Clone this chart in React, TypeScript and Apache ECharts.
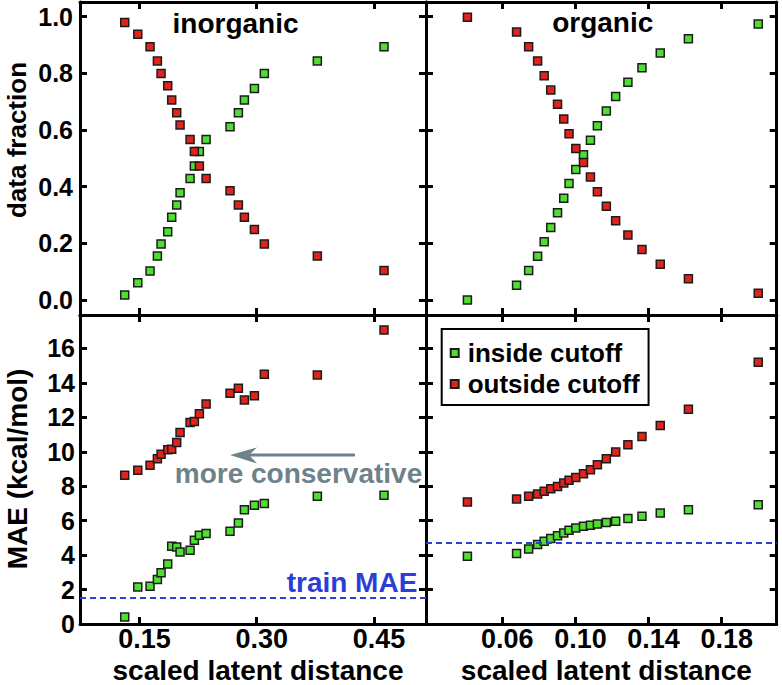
import React, { useEffect, useRef } from 'react';
import * as echarts from 'echarts';

// ---------- data ----------
const inorgX = [0.1312, 0.1479, 0.1636, 0.173, 0.1777, 0.1862, 0.1913, 0.1977, 0.202, 0.2148, 0.2203, 0.2267, 0.2353, 0.2659, 0.2766, 0.2843, 0.2971, 0.3098, 0.3776, 0.4629];
const inorgFracInside = [0.018, 0.061, 0.102, 0.155, 0.198, 0.241, 0.292, 0.335, 0.379, 0.429, 0.473, 0.524, 0.567, 0.612, 0.661, 0.706, 0.747, 0.8, 0.844, 0.894];
const inorgFracOutside = [0.98, 0.938, 0.894, 0.844, 0.8, 0.756, 0.706, 0.661, 0.618, 0.567, 0.524, 0.473, 0.429, 0.386, 0.335, 0.292, 0.249, 0.198, 0.155, 0.104];
const inorgMaeInside = [0.4, 2.15, 2.19, 2.58, 2.97, 3.49, 4.51, 4.47, 4.18, 4.28, 4.86, 5.15, 5.25, 5.38, 5.86, 6.64, 6.89, 6.99, 7.41, 7.47];
const inorgMaeOutside = [8.63, 8.92, 9.21, 9.59, 9.86, 10.12, 10.15, 10.54, 11.12, 11.7, 11.76, 12.2, 12.78, 13.4, 13.69, 13.01, 13.25, 14.5, 14.46, 17.07];

const orgX = [0.0409, 0.0678, 0.0744, 0.0793, 0.0829, 0.0865, 0.0902, 0.0936, 0.0965, 0.1002, 0.1044, 0.1082, 0.112, 0.1169, 0.122, 0.1287, 0.1364, 0.1464, 0.1618, 0.2];
const orgFracInside = [0.0, 0.052, 0.104, 0.154, 0.206, 0.256, 0.308, 0.359, 0.411, 0.461, 0.513, 0.564, 0.615, 0.667, 0.718, 0.769, 0.82, 0.872, 0.922, 0.974];
const orgFracOutside = [0.998, 0.946, 0.894, 0.844, 0.792, 0.741, 0.691, 0.639, 0.587, 0.535, 0.485, 0.434, 0.382, 0.331, 0.28, 0.229, 0.178, 0.126, 0.075, 0.024];
const orgMaeInside = [3.93, 4.09, 4.36, 4.61, 4.8, 4.96, 5.13, 5.29, 5.44, 5.57, 5.67, 5.73, 5.81, 5.9, 5.96, 6.12, 6.25, 6.44, 6.64, 6.93];
const orgMaeOutside = [7.08, 7.26, 7.41, 7.55, 7.7, 7.85, 7.99, 8.18, 8.34, 8.51, 8.72, 8.96, 9.25, 9.59, 9.98, 10.41, 10.89, 11.53, 12.47, 15.19];

const trainMaeInorg = 1.52;
const trainMaeOrg = 4.71;

const inorgTicks = [0.15, 0.3, 0.45];
const orgTicks = [0.06, 0.1, 0.14, 0.18];
const fracTicks = [0, 0.2, 0.4, 0.6, 0.8, 1.0];
const maeTicks = [0, 2, 4, 6, 8, 10, 12, 14, 16];

const seriesNames = ['inside cutoff', 'outside cutoff'];
const panelTitles = ['inorganic', 'organic'];

// ---------- styling ----------
const FONT = '"Liberation Sans", Arial, Helvetica, sans-serif';
const GREEN = '#4ee030';
const RED = '#e3231b';
const EDGE = '#1c1c1c';
const GRAY = '#6f8189';
const BLUE = '#2c3dd8';

const grids = [
  { left: 80, top: 2, width: 346, height: 313 },
  { left: 426, top: 2, width: 350.7, height: 313 },
  { left: 80, top: 315, width: 346, height: 309.5 },
  { left: 426, top: 315, width: 350.7, height: 309.5 },
];

const xRanges = [
  [0.074, 0.5166],
  [0.01825, 0.2101],
];
const fracRange = [-0.053, 1.052];
const maeRange = [0, 17.94];

const zip = (xs: number[], ys: number[]) => xs.map((x, i) => [x, ys[i]]);

export default function App() {
  const ref = useRef<HTMLDivElement>(null);

  useEffect(() => {
    if (!ref.current) return;
    const chart = echarts.init(ref.current, undefined, { renderer: 'svg' });

    const line = { onZero: false, lineStyle: { color: '#000', width: 3 } };
    const tickBase = { inside: true, length: 7, lineStyle: { color: '#000', width: 3 } };

    const xAxis: any[] = [];
    const yAxis: any[] = [];
    for (let g = 0; g < 4; g++) {
      const isLeft = g % 2 === 0;
      const isBottom = g >= 2;
      const [xmin, xmax] = isLeft ? xRanges[0] : xRanges[1];
      const xt = isLeft ? inorgTicks : orgTicks;
      const [ymin, ymax] = isBottom ? maeRange : fracRange;
      const yt = isBottom ? maeTicks : fracTicks;
      // bottom x axis
      xAxis.push({
        type: 'value', gridIndex: g, position: 'bottom', min: xmin, max: xmax,
        axisLine: line, splitLine: { show: false },
        axisTick: { ...tickBase, customValues: xt },
        axisLabel: {
          show: isBottom, customValues: xt, margin: 1,
          formatter: (v: number) => v.toFixed(2),
          fontSize: 27, fontWeight: 'bold', color: '#000', fontFamily: FONT,
          padding: [0, 0, 0, 10],
        },
        name: isBottom ? 'scaled latent distance' : '',
        nameLocation: 'middle', nameGap: 32,
        nameTextStyle: { fontSize: 28, fontWeight: 'bold', color: '#000', fontFamily: FONT, padding: [0, 0, 0, 10] },
      });
      // top x axis (ticks only)
      xAxis.push({
        type: 'value', gridIndex: g, position: 'top', min: xmin, max: xmax,
        axisLine: line, splitLine: { show: false },
        axisTick: { ...tickBase, customValues: xt },
        axisLabel: { show: false },
      });
      // left y axis
      yAxis.push({
        type: 'value', gridIndex: g, position: 'left', min: ymin, max: ymax,
        axisLine: line, splitLine: { show: false },
        axisTick: { ...tickBase, customValues: yt },
        axisLabel: {
          show: isLeft, customValues: yt, margin: isBottom ? 5 : 7,
          formatter: (v: number) => (isBottom ? String(Math.round(v)) : v.toFixed(1)),
          fontSize: 25, fontWeight: 'bold', color: '#000', fontFamily: FONT,
        },
      });
      // right y axis (ticks only)
      yAxis.push({
        type: 'value', gridIndex: g, position: 'right', min: ymin, max: ymax,
        axisLine: line, splitLine: { show: false },
        axisTick: { ...tickBase, customValues: yt },
        axisLabel: { show: false },
      });
    }

    const panelData = [
      [inorgX, inorgFracInside, inorgFracOutside, null],
      [orgX, orgFracInside, orgFracOutside, null],
      [inorgX, inorgMaeInside, inorgMaeOutside, trainMaeInorg],
      [orgX, orgMaeInside, orgMaeOutside, trainMaeOrg],
    ] as const;

    const series: any[] = [];
    panelData.forEach(([xs, ins, outs, train], g) => {
      const common = {
        type: 'scatter', xAxisIndex: g * 2, yAxisIndex: g * 2,
        symbol: 'rect', symbolSize: 8,
      };
      series.push({
        ...common, name: seriesNames[0], z: 3,
        data: zip(xs as number[], ins as number[]),
        itemStyle: { color: GREEN, borderColor: EDGE, borderWidth: 1.5, opacity: 1 },
        markLine: train == null ? undefined : {
          silent: true, symbol: 'none', animation: false,
          label: { show: false },
          lineStyle: { type: [6, 4], color: BLUE, width: 2, opacity: 1 },
          data: [{ yAxis: train }],
        },
      });
      series.push({
        ...common, name: seriesNames[1], z: 4,
        data: zip(xs as number[], outs as number[]),
        itemStyle: { color: RED, borderColor: EDGE, borderWidth: 1.5, opacity: 1 },
      });
    });

    const titleFont = (size: number) => `bold ${size}px ${FONT}`;

    chart.setOption({
      animation: false,
      backgroundColor: '#fff',
      grid: grids.map((g) => ({ ...g, containLabel: false })),
      xAxis, yAxis, series,
      legend: {
        data: seriesNames, orient: 'vertical', left: 441.7, top: 329,
        borderColor: '#000', borderWidth: 2, borderRadius: 0,
        padding: [11, 9, 8, 8], itemGap: 5, itemWidth: 8, itemHeight: 8,
        selectedMode: false,
        textStyle: { fontSize: 26, fontWeight: 'bold', color: '#000', fontFamily: FONT, padding: [0, 0, 0, 4] },
      },
      graphic: [
        { type: 'text', x: 17, y: 140, rotation: Math.PI / 2, style: { text: 'data fraction', font: titleFont(26), fill: '#000', align: 'center', verticalAlign: 'middle' } },
        { type: 'text', x: 17, y: 469, rotation: Math.PI / 2, style: { text: 'MAE (kcal/mol)', font: titleFont(28), fill: '#000', align: 'center', verticalAlign: 'middle' } },
        { type: 'text', x: 235.5, y: 23, style: { text: panelTitles[0], font: titleFont(28), fill: '#000', align: 'center', verticalAlign: 'middle' } },
        { type: 'text', x: 602.7, y: 22, style: { text: panelTitles[1], font: titleFont(28), fill: '#000', align: 'center', verticalAlign: 'middle' } },
        { type: 'text', x: 298.5, y: 473.5, style: { text: 'more conservative', font: titleFont(28), fill: GRAY, align: 'center', verticalAlign: 'middle' } },
        { type: 'text', x: 352, y: 582, style: { text: 'train MAE', font: titleFont(28), fill: BLUE, align: 'center', verticalAlign: 'middle' } },
        { type: 'line', shape: { x1: 355, y1: 455, x2: 248, y2: 455 }, style: { stroke: GRAY, lineWidth: 3 } },
        { type: 'polygon', shape: { points: [[230, 455], [257, 447.5], [249, 455], [257, 463.5]] }, style: { fill: GRAY } },
      ],
    });

    return () => chart.dispose();
  }, []);

  return <div ref={ref} style={{ position: 'absolute', left: 0, top: 0, width: 782, height: 685 }} />;
}
